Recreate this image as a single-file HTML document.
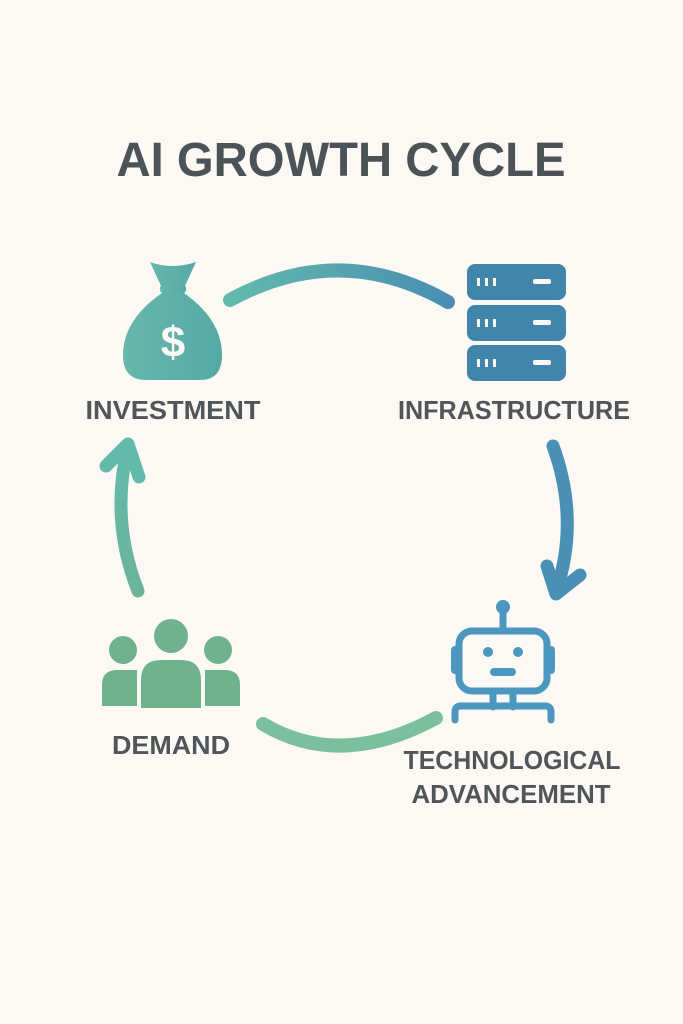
<!DOCTYPE html>
<html><head><meta charset="utf-8"><style>
html,body{margin:0;padding:0;background:#fcf9f5;}
svg{display:block}
</style></head><body>
<svg width="683" height="1024" viewBox="0 0 683 1024" xmlns="http://www.w3.org/2000/svg">
<defs>
<linearGradient id="gt" x1="0" x2="1"><stop offset="0" stop-color="#62b9ac"/><stop offset="1" stop-color="#4a8fb2"/></linearGradient>
<linearGradient id="gl" x1="0" y1="1" x2="0" y2="0"><stop offset="0" stop-color="#6cb39a"/><stop offset="1" stop-color="#62bbae"/></linearGradient>
<linearGradient id="gbag" x1="0" x2="1"><stop offset="0" stop-color="#66b8ab"/><stop offset="1" stop-color="#56a8a6"/></linearGradient>
</defs>
<text x="341" y="176" text-anchor="middle" font-family="Liberation Sans, sans-serif" font-weight="bold" font-size="48" fill="#4b5357" textLength="449" lengthAdjust="spacingAndGlyphs">AI GROWTH CYCLE</text>

<!-- bag -->
<path d="M150 262 Q172 270 196 262 L184 288 L162 288 Z" fill="url(#gbag)"/>
<rect x="160" y="285" width="26" height="8" rx="3" fill="url(#gbag)"/>
<path d="M162 293 L184 293 Q222 320 222 355 Q222 380 200 380 L146 380 Q123 380 123 355 Q123 320 162 293 Z" fill="url(#gbag)"/>
<text x="173" y="357" text-anchor="middle" font-family="Liberation Sans, sans-serif" font-weight="bold" font-size="44" fill="#fcf9f5">$</text>
<text x="173" y="419" text-anchor="middle" font-family="Liberation Sans, sans-serif" font-weight="bold" font-size="26" fill="#4f5558" textLength="175" lengthAdjust="spacingAndGlyphs">INVESTMENT</text>

<!-- top arc -->
<path d="M230 300 Q340 240 448 302" fill="none" stroke="url(#gt)" stroke-width="14" stroke-linecap="round"/>

<!-- server -->
<g fill="#4185ab">
<rect x="467" y="264" width="99" height="36" rx="8"/>
<rect x="467" y="305" width="99" height="36" rx="8"/>
<rect x="467" y="345" width="99" height="36" rx="8"/>
</g>
<g fill="#fcf9f5">
<rect x="477" y="278" width="3" height="8"/><rect x="485" y="278" width="3" height="8"/><rect x="493" y="278" width="3" height="8"/><rect x="533" y="279" width="18" height="5" rx="2"/>
<rect x="477" y="319" width="3" height="8"/><rect x="485" y="319" width="3" height="8"/><rect x="493" y="319" width="3" height="8"/><rect x="533" y="320" width="18" height="5" rx="2"/>
<rect x="477" y="359" width="3" height="8"/><rect x="485" y="359" width="3" height="8"/><rect x="493" y="359" width="3" height="8"/><rect x="533" y="360" width="18" height="5" rx="2"/>
</g>
<text x="514" y="419" text-anchor="middle" font-family="Liberation Sans, sans-serif" font-weight="bold" font-size="26" fill="#4f5558" textLength="232" lengthAdjust="spacingAndGlyphs">INFRASTRUCTURE</text>

<!-- right arrow -->
<path d="M553 446 Q580 520 556 592" fill="none" stroke="#4a90b5" stroke-width="13" stroke-linecap="round"/>
<path d="M547 566 L556 594 L580 575" fill="none" stroke="#4a90b5" stroke-width="13" stroke-linecap="round" stroke-linejoin="round"/>

<!-- left arrow -->
<path d="M138 591 Q110 520 128 446" fill="none" stroke="url(#gl)" stroke-width="13" stroke-linecap="round"/>
<path d="M106 466 L128 444 L139 477" fill="none" stroke="#64baaa" stroke-width="13" stroke-linecap="round" stroke-linejoin="round"/>

<!-- robot -->
<g stroke="#4b97bf" fill="none" stroke-width="7" stroke-linecap="round">
<line x1="503" y1="610" x2="503" y2="628"/>
<rect x="459" y="631" width="88" height="60" rx="13"/>
<line x1="493" y1="692" x2="493" y2="707"/><line x1="513" y1="692" x2="513" y2="707"/>
<path d="M455 720 L455 712 Q455 706 461 706 L545 706 Q551 706 551 712 L551 720"/>
</g>
<circle cx="503" cy="607" r="7" fill="#4b97bf"/>
<rect x="451" y="646" width="9" height="28" rx="4" fill="#4b97bf"/>
<rect x="546" y="646" width="9" height="28" rx="4" fill="#4b97bf"/>
<circle cx="488" cy="652" r="5" fill="#4b97bf"/><circle cx="518" cy="652" r="5" fill="#4b97bf"/>
<rect x="490" y="668" width="26" height="8" rx="4" fill="#4b97bf"/>
<text x="512" y="769" text-anchor="middle" font-family="Liberation Sans, sans-serif" font-weight="bold" font-size="26" fill="#4f5558" textLength="217" lengthAdjust="spacingAndGlyphs">TECHNOLOGICAL</text>
<text x="511" y="803" text-anchor="middle" font-family="Liberation Sans, sans-serif" font-weight="bold" font-size="26" fill="#4f5558" textLength="199" lengthAdjust="spacingAndGlyphs">ADVANCEMENT</text>

<!-- bottom arc -->
<path d="M263 724 Q340 770 436 718" fill="none" stroke="#7cbf9f" stroke-width="14" stroke-linecap="round"/>

<!-- people -->
<g fill="#70b28e">
<circle cx="171" cy="636" r="17"/>
<circle cx="123" cy="650" r="14"/>
<circle cx="218" cy="650" r="14"/>
<path d="M141 708 L141 680 Q141 660 161 660 L181 660 Q201 660 201 680 L201 708 Z"/>
<path d="M102 706 L102 685 Q102 670 117 670 L137 670 L137 706 Z"/>
<path d="M240 706 L240 685 Q240 670 225 670 L205 670 L205 706 Z"/>
</g>
<text x="171" y="754" text-anchor="middle" font-family="Liberation Sans, sans-serif" font-weight="bold" font-size="26" fill="#4f5558" textLength="118" lengthAdjust="spacingAndGlyphs">DEMAND</text>
</svg>
</body></html>
